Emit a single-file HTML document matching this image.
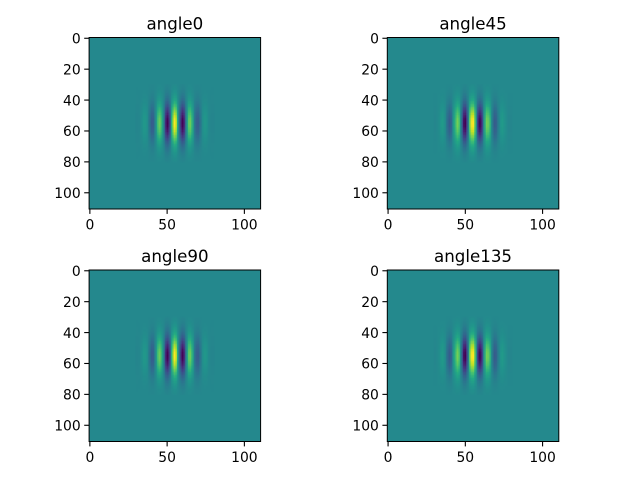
<!DOCTYPE html>
<html>
<head>
<meta charset="utf-8">
<title>Gabor filter angles</title>
<style>
html,body{margin:0;padding:0;background:#fff;}
svg{display:block;}
text{font-family:"DejaVu Sans","Liberation Sans",sans-serif;fill:#000;}
</style>
</head>
<body>
<svg id="chart" xmlns="http://www.w3.org/2000/svg" width="640" height="480" viewBox="0 0 640 480"></svg>
<script>
const imageSize = 111;
const firstColumn = 30;
const firstRow = 30;
const titles = ["angle0", "angle45", "angle90", "angle135"];
const xTicks = [0, 50, 100];
const yTicks = [0, 20, 40, 60, 80, 100];

const rowEnvelope = [
  .02,.03,.04,.05,.07,.085,.11,.135,.17,.21,.25,.30,.35,.41,.47,.54,.61,.67,.74,.80,.86,.91,.95,.98,.99,1,
  .99,.98,.95,.91,.86,.80,.74,.67,.61,.54,.47,.41,.35,.30,.25,.21,.17,.135,.11,.085,.07,.05,.04,.03,.02
];
const columnsAngle0 = [
  -.02,-.02,-.01,.02,.07,.12,.12,.05,-.07,-.22,-.32,-.30,-.13,.15,.42,.58,.52,.22,-.24,-.65,-.86,-.73,-.29,.30,.80,
  1,.80,.30,-.29,-.73,-.86,-.65,-.24,.22,.52,.58,.42,.15,-.13,-.30,-.32,-.22,-.07,.05,.12,.12,.07,.02,-.01,-.02,-.02
];
const columnsAngle45 = [
  -.02,-.02,0,.04,.09,.13,.11,.02,-.13,-.27,-.33,-.25,-.03,.26,.50,.59,.43,.04,-.41,-.77,-.85,-.59,-.06,.53,.93,
  .97,.63,.06,-.50,-.82,-.81,-.49,-.04,.38,.58,.54,.31,.02,-.23,-.33,-.28,-.15,-.01,.09,.13,.10,.05,0,-.02,-.02,-.02
];
const columnsAngle90 = [
  -.02,-.02,-.01,.02,.07,.12,.12,.05,-.07,-.22,-.32,-.30,-.13,.15,.42,.58,.52,.22,-.24,-.65,-.86,-.73,-.29,.30,.80,
  1,.80,.30,-.29,-.73,-.86,-.65,-.24,.22,.52,.58,.42,.15,-.13,-.30,-.32,-.22,-.07,.05,.12,.12,.07,.02,-.01,-.02,-.02
];
const columnsAngle135 = [
  -.02,-.02,0,.04,.09,.13,.11,.02,-.13,-.27,-.33,-.25,-.03,.26,.50,.59,.43,.04,-.41,-.77,-.85,-.59,-.06,.53,.93,
  .97,.63,.06,-.50,-.82,-.81,-.49,-.04,.38,.58,.54,.31,.02,-.23,-.33,-.28,-.15,-.01,.09,.13,.10,.05,0,-.02,-.02,-.02
];
const panelColumns = [columnsAngle0, columnsAngle45, columnsAngle90, columnsAngle135];

const viridis = ["#440154","#482475","#414487","#355f8d","#2a788e","#21918c","#22a884","#44bf70","#7ad151","#bddf26","#fde725"];

const NS = "http://www.w3.org/2000/svg";
const svg = document.getElementById("chart");
const axesLeft = [89.1, 387.3, 89.1, 387.3];
const axesTop = [37.5, 37.5, 270, 270];
const axesSide = 171.5;

function hexRgb(h) {
  return [parseInt(h.slice(1,3),16), parseInt(h.slice(3,5),16), parseInt(h.slice(5,7),16)];
}
function colormap(t) {
  const p = Math.max(0, Math.min(1, t)) * (viridis.length - 1);
  const i = Math.min(viridis.length - 2, Math.floor(p));
  const f = p - i, a = hexRgb(viridis[i]), b = hexRgb(viridis[i + 1]);
  return "rgb(" + [0,1,2].map(k => Math.round(a[k] + (b[k] - a[k]) * f)).join(",") + ")";
}
function make(tag, attrs, parent) {
  const el = document.createElementNS(NS, tag);
  for (const k in attrs) el.setAttribute(k, attrs[k]);
  parent.appendChild(el);
  return el;
}

titles.forEach(function (title, p) {
  const left = axesLeft[p], top = axesTop[p];
  const xScale = v => left + (v + 0.5) / imageSize * axesSide;
  const yScale = v => top + (v + 0.5) / imageSize * axesSide;
  const cols = panelColumns[p];

  const grid = [];
  cols.forEach(c => rowEnvelope.forEach(r => grid.push(c * r)));
  const vMin = Math.min(0, ...grid), vMax = Math.max(0, ...grid);
  const norm = v => (v - vMin) / (vMax - vMin);

  const g = make("g", {}, svg);
  
  

  const bg = make("rect", {x: left, y: top, width: axesSide, height: axesSide, fill: colormap(norm(0))}, g);
  
  

  const cellGroup = make("g", {"shape-rendering": "crispEdges"}, g);
  
  
  cols.forEach(function (c, ci) {
    rowEnvelope.forEach(function (r, ri) {
      const col = firstColumn + ci, row = firstRow + ri;
      const cell = make("rect", {
        x: xScale(col - 0.5).toFixed(2), y: yScale(row - 0.5).toFixed(2),
        width: (xScale(col + 0.5) - xScale(col - 0.5)).toFixed(2),
        height: (yScale(row + 0.5) - yScale(row - 0.5)).toFixed(2),
        fill: colormap(norm(c * r))
      }, cellGroup);
      
      
    });
  });

  const frame = make("rect", {x: left, y: top, width: axesSide, height: axesSide, fill: "none", stroke: "#000", "stroke-width": 1}, g);
  
  

  xTicks.forEach(function (t) {
    const x = xScale(t);
    const mark = make("line", {x1: x, x2: x, y1: top + axesSide, y2: top + axesSide + 4.9, stroke: "#000", "stroke-width": 1.1}, g);
    
    
    const label = make("text", {x: x, y: top + axesSide + 20.5, "text-anchor": "middle", "font-size": 13.89}, g);
    
    
    label.textContent = t;
  });
  yTicks.forEach(function (t) {
    const y = yScale(t);
    const mark = make("line", {x1: left - 4.9, x2: left, y1: y, y2: y, stroke: "#000", "stroke-width": 1.1}, g);
    
    
    const label = make("text", {x: left - 8.4, y: y + 5.2, "text-anchor": "end", "font-size": 13.89}, g);
    
    
    label.textContent = t;
  });

  const heading = make("text", {x: left + axesSide / 2, y: top - 8, "text-anchor": "middle", "font-size": 16.67}, g);
  
  
  heading.textContent = title;
});
</script>
</body>
</html>
